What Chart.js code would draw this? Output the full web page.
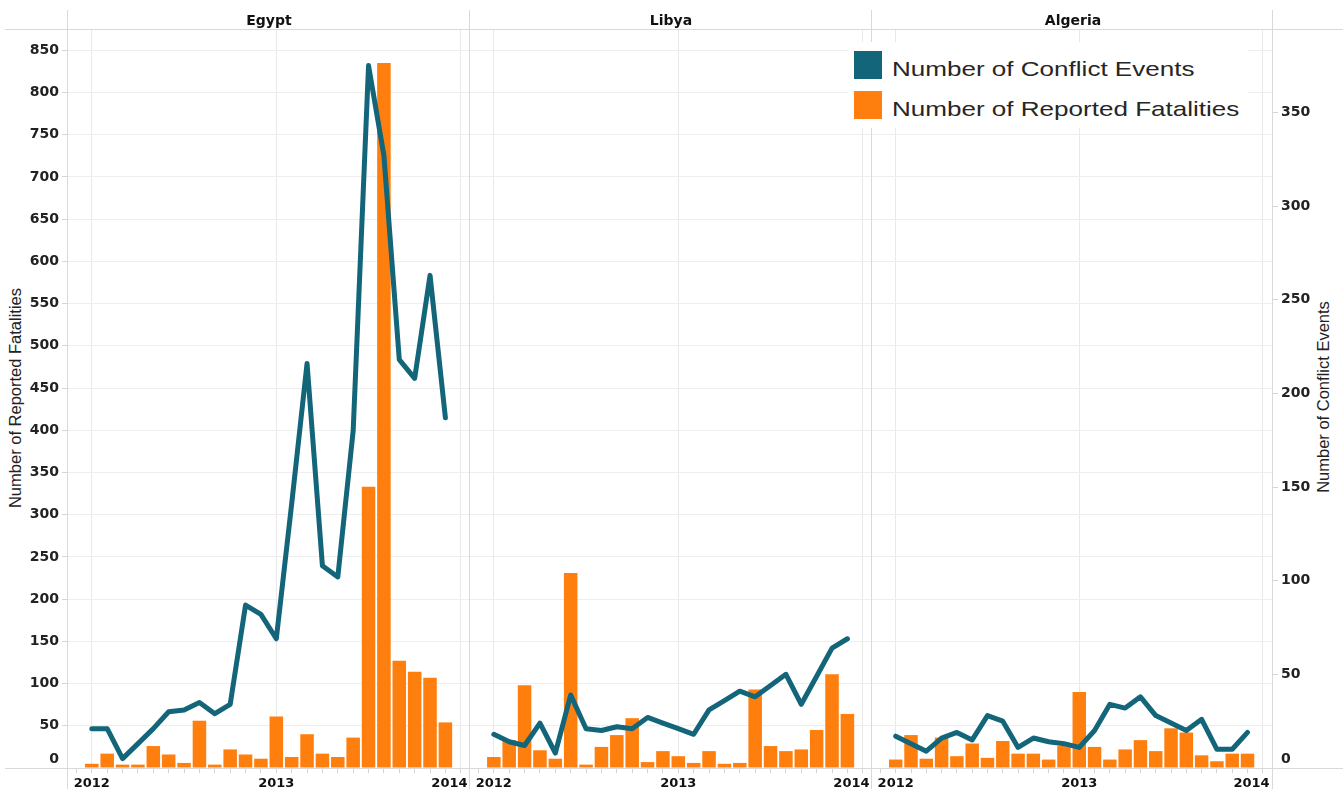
<!DOCTYPE html>
<html>
<head>
<meta charset="utf-8">
<title>Conflict events and reported fatalities: Egypt, Libya, Algeria</title>
<script src="https://cdn.jsdelivr.net/npm/chart.js@4.4.1/dist/chart.umd.min.js"></script>
<style>
  html, body { margin: 0; padding: 0; background: #fff; }
  #page { position: relative; width: 1343px; height: 789px; overflow: hidden; font-family: "Liberation Sans", Arial, sans-serif; }
  canvas { position: absolute; top: 0; z-index: 1; }
  .rule { position: absolute; background: #d9d9d9; z-index: 2; }
  .panel-title { position: absolute; top: 12px; width: 402px; text-align: center; line-height: 16px; font: bold 14px "DejaVu Sans", sans-serif; color: #111; z-index: 2; }
  .axis-title { position: absolute; font-size: 16.5px; color: #222; white-space: nowrap; transform: translate(-50%, -50%) rotate(-90deg); }
  #legend { position: absolute; left: 848px; top: 42px; width: 400px; height: 86px; background: #fff; z-index: 3; }
  #legend .swatch { position: absolute; left: 6px; width: 28px; height: 28px; }
  #legend .label { position: absolute; left: 44px; font-size: 21px; line-height: 28px; color: #262626; white-space: nowrap; transform: scaleX(1.24); transform-origin: left center; }
</style>
</head>
<body>
<div id="page">
  <canvas id="egyptChart" width="470" height="789" style="left:0"></canvas>
  <canvas id="libyaChart" width="402" height="789" style="left:470px"></canvas>
  <canvas id="algeriaChart" width="471" height="789" style="left:872px"></canvas>

  <div class="panel-title" style="left:68px">Egypt</div>
  <div class="panel-title" style="left:470px">Libya</div>
  <div class="panel-title" style="left:872px">Algeria</div>

  <div class="axis-title" style="left:15px; top:398px">Number of Reported Fatalities</div>
  <div class="axis-title" style="left:1323px; top:397px">Number of Conflict Events</div>

  <div class="rule" style="left:5px; top:29px; width:1338px; height:1px"></div>
  <div class="rule" style="left:5px; top:768px; width:1338px; height:1px"></div>
  <div class="rule" style="left:67px; top:10px; width:1px; height:779px"></div>
  <div class="rule" style="left:469px; top:10px; width:1px; height:779px"></div>
  <div class="rule" style="left:871px; top:10px; width:1px; height:779px"></div>
  <div class="rule" style="left:1272px; top:10px; width:1px; height:779px"></div>

  <div id="legend">
    <div class="swatch" style="top:9px; background:#13657a"></div>
    <div class="label" style="top:13px">Number of Conflict Events</div>
    <div class="swatch" style="top:49px; background:#ff7f0e"></div>
    <div class="label" style="top:53px">Number of Reported Fatalities</div>
  </div>
</div>

<script>
const months = [
  'Jan 2012', 'Feb 2012', 'Mar 2012', 'Apr 2012', 'May 2012', 'Jun 2012',
  'Jul 2012', 'Aug 2012', 'Sep 2012', 'Oct 2012', 'Nov 2012', 'Dec 2012',
  'Jan 2013', 'Feb 2013', 'Mar 2013', 'Apr 2013', 'May 2013', 'Jun 2013',
  'Jul 2013', 'Aug 2013', 'Sep 2013', 'Oct 2013', 'Nov 2013', 'Dec 2013'
];
const yearLabels = ['2012', '2013', '2014'];

const egyptFatalities = [5, 17, 4, 4, 26, 16, 6, 56, 4, 22, 16, 11, 61, 13, 40, 17, 13, 36, 333, 835, 127, 114, 107, 54];
const egyptEvents = [21, 21, 5, 13, 21, 30, 31, 35, 29, 34, 87, 82, 69, 141, 216, 108, 102, 180, 375, 327, 218, 208, 263, 187];

const libyaFatalities = [13, 33, 98, 21, 11, 231, 4, 25, 39, 59, 7, 20, 14, 6, 20, 5, 6, 93, 26, 20, 22, 45, 111, 64];
const libyaEvents = [18, 14, 12, 24, 8, 39, 21, 20, 22, 21, 27, 24, 21, 18, 31, 36, 41, 38, 44, 50, 34, 49, 64, 69];

const algeriaFatalities = [10, 39, 11, 36, 14, 29, 12, 32, 17, 17, 10, 26, 90, 25, 10, 22, 33, 20, 47, 42, 15, 8, 17, 17];
const algeriaEvents = [17, 13, 9, 16, 19, 15, 28, 25, 11, 16, 14, 13, 11, 20, 34, 32, 38, 28, 24, 20, 26, 10, 10, 19];

const TEAL = '#13657a';
const ORANGE = '#ff7f0e';
const xFont = { family: 'DejaVu Sans', weight: 'bold', size: 13 };
const yFont = { family: 'DejaVu Sans', weight: 'bold', size: 14 };

const toPoints = (values) => months.map((m, i) => ({ x: i, y: values[i] }));

// Tableau keeps the end labels inside the pane, so nudge them a little
const zeroLabel = (v) => v === 0 ? ['0', ''] : v;
const yearLabel = (v) => {
    if (v % 12 !== 0) return '';
    const label = yearLabels[v / 12];
    return v === 24 ? label + '     ' : label;
};

const makePanel = (canvasId, fatalities, events, side) => {
    const showLeft = side === 'left';
    const showRight = side === 'right';

    return new Chart(document.getElementById(canvasId), {
        type: 'bar',
        data: {
            datasets: [
                {
                    type: 'line',
                    label: 'Number of Conflict Events',
                    data: toPoints(events),
                    yAxisID: 'y1',
                    borderColor: TEAL,
                    borderWidth: 5,
                    borderJoinStyle: 'round',
                    borderCapStyle: 'round',
                    pointRadius: 0,
                    tension: 0,
                    order: 0
                },
                {
                    type: 'bar',
                    label: 'Number of Reported Fatalities',
                    data: toPoints(fatalities),
                    yAxisID: 'y',
                    backgroundColor: ORANGE,
                    barPercentage: 0.88,
                    categoryPercentage: 1,
                    order: 1
                }
            ]
        },
        options: {
            responsive: false,
            animation: false,
            layout: { autoPadding: false, padding: { top: 30 } },
            plugins: { legend: { display: false }, tooltip: { enabled: false } },
            scales: {
                x: {
                    type: 'linear',
                    min: -1.55,
                    max: 24.6,
                    offset: false,
                    afterFit: (s) => {
                        // panes share one width, labels must not squeeze them
                        s.height = 21;
                        s.paddingLeft = 0;
                        s.paddingRight = 0;
                    },
                    border: { display: false },
                    grid: {
                        offset: false,
                        color: (c) => c.tick && c.tick.value % 12 === 0 ? '#e9e9e9' : 'transparent',
                        tickColor: '#d4d4d4',
                        tickLength: 5
                    },
                    ticks: {
                        stepSize: 1,
                        includeBounds: false,
                        autoSkip: false,
                        maxRotation: 0,
                        padding: 3,
                        color: '#111',
                        font: xFont,
                        callback: yearLabel
                    }
                },
                y: {
                    position: 'left',
                    min: 0,
                    max: 874,
                    afterFit: (s) => { s.width = showLeft ? 68 : 0; },
                    border: { display: false },
                    grid: { color: '#eeeeee', tickColor: '#d4d4d4', tickLength: 6, drawTicks: showLeft },
                    ticks: {
                        display: showLeft,
                        stepSize: 50,
                        includeBounds: false,
                        padding: 3,
                        color: '#222',
                        font: yFont,
                        callback: zeroLabel
                    }
                },
                y1: {
                    position: 'right',
                    display: showRight,
                    min: 0,
                    max: 394,
                    afterFit: (s) => { s.width = showRight ? 71 : 0; },
                    border: { display: false },
                    grid: { drawOnChartArea: false, tickColor: '#d4d4d4', tickLength: 6 },
                    ticks: {
                        stepSize: 50,
                        includeBounds: false,
                        padding: 3,
                        color: '#222',
                        font: yFont,
                        callback: zeroLabel
                    }
                }
            }
        }
    });
};

makePanel('egyptChart', egyptFatalities, egyptEvents, 'left');
makePanel('libyaChart', libyaFatalities, libyaEvents, 'none');
makePanel('algeriaChart', algeriaFatalities, algeriaEvents, 'right');
</script>
</body>
</html>
